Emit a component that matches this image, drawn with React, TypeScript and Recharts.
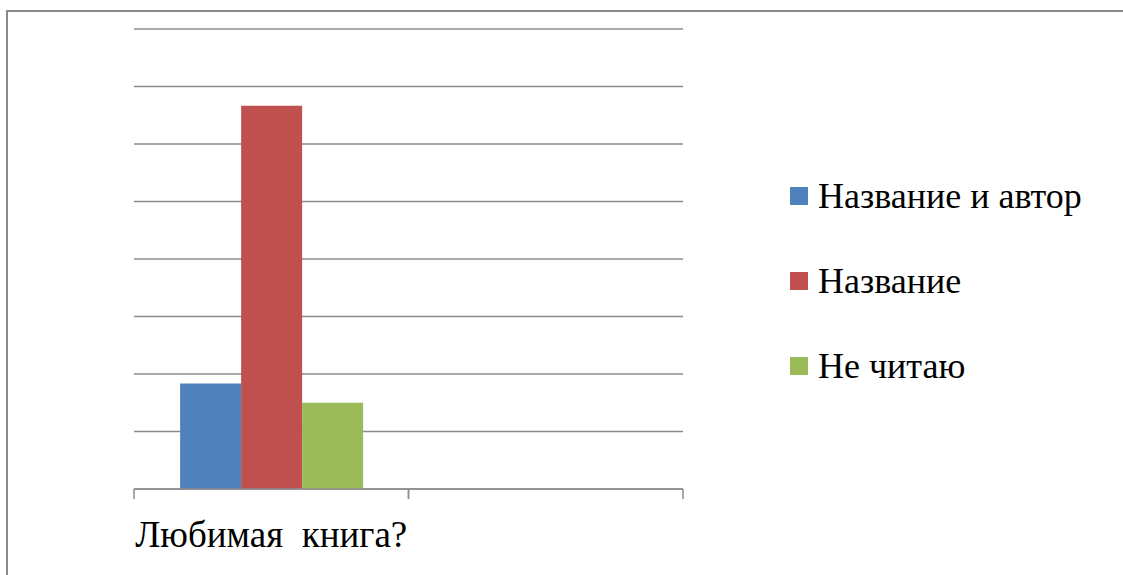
import { BarChart, Bar, XAxis, YAxis, CartesianGrid } from 'recharts';

const categories = ['Любимая  книга?', ''];
const seriesNames = ['Название и автор', 'Название', 'Не читаю'];
const seriesColors = ['#4F81BD', '#C0504D', '#9BBB59'];
const withAuthor = [11, null];
const titleOnly = [40, null];
const noReading = [9, null];
const yTicks = [0, 6, 12, 18, 24, 30, 36, 42, 48];

const data = categories.map((name, i) => ({
  name,
  withAuthor: withAuthor[i],
  titleOnly: titleOnly[i],
  noReading: noReading[i],
}));

const keys = ['withAuthor', 'titleOnly', 'noReading'];
const font = '"Times New Roman", Times, "Liberation Serif", "DejaVu Serif", serif';

// label at the category centre, tick marks on the band edges (Excel style)
const CategoryTick = (props: any) => {
  const { x, y, payload, width } = props;
  const band = width / categories.length;
  return (
    <g>
      <line x1={x - band / 2} y1={y} x2={x - band / 2} y2={y + 10} stroke="#8c8c8c" strokeWidth={1.5} />
      <line x1={x + band / 2} y1={y} x2={x + band / 2} y2={y + 10} stroke="#8c8c8c" strokeWidth={1.5} />
      <text
        x={x}
        y={y}
        dy={58}
        textAnchor="middle"
        fill="#000"
        style={{ whiteSpace: 'pre', fontFamily: font, fontSize: 37 }}
      >
        {payload.value}
      </text>
    </g>
  );
};

export default function App() {
  return (
    <div
      style={{
        position: 'absolute',
        left: 0,
        top: 0,
        width: 1123,
        height: 575,
        overflow: 'hidden',
        background: '#fff',
      }}
    >
      <div
        style={{
          position: 'absolute',
          left: 6,
          top: 10,
          width: 1140,
          height: 600,
          border: '2px solid #8a8a8a',
        }}
      />
      <div style={{ position: 'absolute', left: 0, top: 0 }}>
        <BarChart
          width={1123}
          height={575}
          data={data}
          margin={{ top: 29, left: 134, right: 440, bottom: 0 }}
          barCategoryGap="16.8%"
          barGap={0}
        >
          <CartesianGrid horizontal vertical={false} stroke="#8c8c8c" strokeWidth={1.5} />
          <YAxis hide domain={[0, 48]} ticks={yTicks} />
          <XAxis
            dataKey="name"
            height={86}
            stroke="#8c8c8c"
            strokeWidth={1.5}
            tickLine={false}
            tickSize={0}
            tickMargin={0}
            interval={0}
            tick={<CategoryTick />}
          />
          {keys.map((k, i) => (
            <Bar
              key={k}
              dataKey={k}
              name={seriesNames[i]}
              fill={seriesColors[i]}
              isAnimationActive={false}
            />
          ))}
        </BarChart>
      </div>
      <div style={{ position: 'absolute', left: 790, top: 153, fontFamily: font, fontSize: 36, color: '#000' }}>
        {seriesNames.map((n, i) => (
          <div key={n} style={{ display: 'flex', alignItems: 'center', height: 85 }}>
            <span style={{ width: 18, height: 18, background: seriesColors[i], marginRight: 10 }} />
            <span style={{ lineHeight: '40px' }}>{n}</span>
          </div>
        ))}
      </div>
    </div>
  );
}
